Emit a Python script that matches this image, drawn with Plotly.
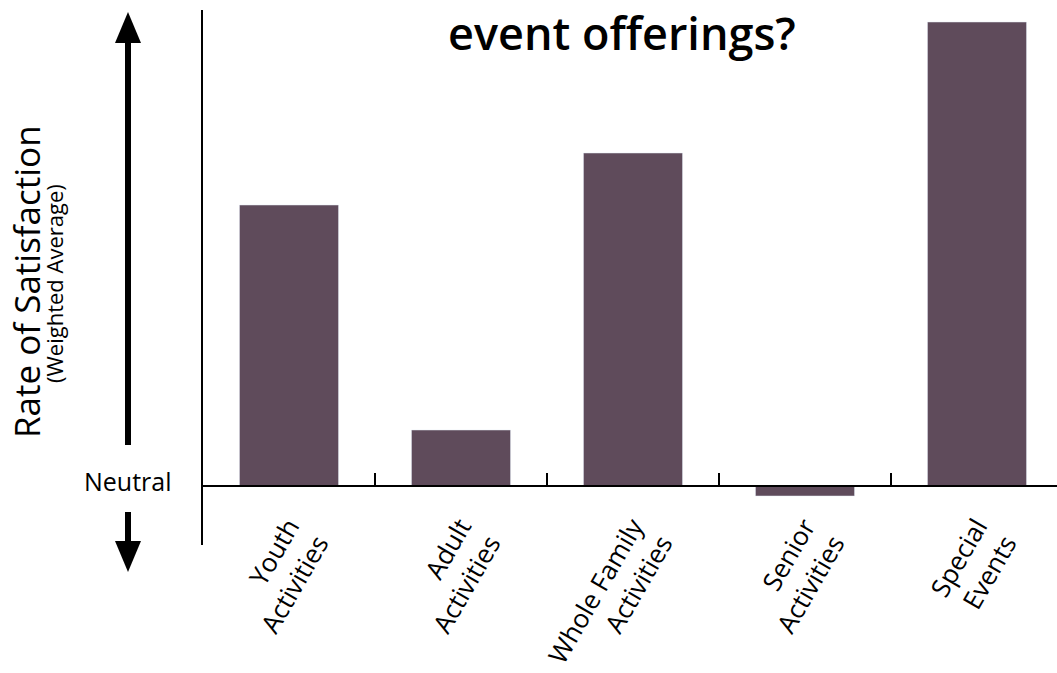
import plotly.graph_objects as go

categories = ["Youth<br>Activities", "Adult<br>Activities", "Whole Family<br>Activities",
              "Senior<br>Activities", "Special<br>Events"]
values = [2.81, 0.56, 3.33, -0.10, 4.64]

W, H = 1057, 673
L, R, T, B = 203, 0, 10, 128
pw, ph = W - L - R, H - T - B

def px(x):
    return (x - L) / pw

def py(y):
    return (H - B - y) / ph

bar_color = "#5f4b5b"
font_body = "'Open Sans', sans-serif"

fig = go.Figure(go.Bar(x=categories, y=values, marker_color=bar_color, width=0.576))

ymin, ymax = -0.59, 4.76
zero_pos = (0 - ymin) / (ymax - ymin)

fig.update_layout(
    width=W, height=H,
    margin=dict(l=L, r=R, t=T, b=B, autoexpand=False),
    plot_bgcolor="white", paper_bgcolor="white",
    showlegend=False,
    xaxis=dict(
        range=[-0.5, -0.5 + pw / 172.0],
        anchor="free", position=zero_pos, automargin=False,
        showline=True, linecolor="black", linewidth=2,
        ticks="inside", tickson="boundaries", ticklen=12, tickwidth=1.5, tickcolor="black",
        tickangle=-60, ticklabelstandoff=14,
        tickfont=dict(family=font_body, size=26, color="black"),
        showgrid=False, zeroline=False,
    ),
    yaxis=dict(
        range=[ymin, ymax], showline=True, linecolor="black", linewidth=2, automargin=False,
        showticklabels=False, ticks="", showgrid=False, zeroline=False,
    ),
    bargap=0.42,
)

annotations = [
    dict(text="event offerings?", x=px(622), y=py(32), xref="paper", yref="paper",
         showarrow=False, font=dict(family=font_body, size=45, color="black", weight=600),
         xanchor="center", yanchor="middle"),
    dict(text="Rate of Satisfaction", x=px(26), y=py(282), xref="paper", yref="paper",
         showarrow=False, textangle=-90, font=dict(family=font_body, size=35, color="black"),
         xanchor="center", yanchor="middle"),
    dict(text="(Weighted Average)", x=px(54), y=py(284), xref="paper", yref="paper",
         showarrow=False, textangle=-90, font=dict(family=font_body, size=22, color="black"),
         xanchor="center", yanchor="middle"),
    dict(text="Neutral", x=px(128), y=py(481), xref="paper", yref="paper",
         showarrow=False, font=dict(family=font_body, size=25, color="black"),
         xanchor="center", yanchor="middle"),
]
fig.update_layout(annotations=annotations)

shapes = []
shapes.append(dict(type="rect", xref="paper", yref="paper",
                   x0=px(125), x1=px(131), y0=py(445), y1=py(40),
                   fillcolor="black", line=dict(width=0)))
shapes.append(dict(type="path", xref="paper", yref="paper",
                   path=f"M {px(115)} {py(43)} L {px(128)} {py(12)} L {px(141)} {py(43)} Z",
                   fillcolor="black", line=dict(width=0)))
shapes.append(dict(type="rect", xref="paper", yref="paper",
                   x0=px(125), x1=px(131), y0=py(512), y1=py(545),
                   fillcolor="black", line=dict(width=0)))
shapes.append(dict(type="path", xref="paper", yref="paper",
                   path=f"M {px(115)} {py(541)} L {px(128)} {py(572)} L {px(141)} {py(541)} Z",
                   fillcolor="black", line=dict(width=0)))
fig.update_layout(shapes=shapes)

fig.write_html("out.html", config={"displayModeBar": False},
               post_script="document.body.style.margin='0';document.body.style.padding='0';")
